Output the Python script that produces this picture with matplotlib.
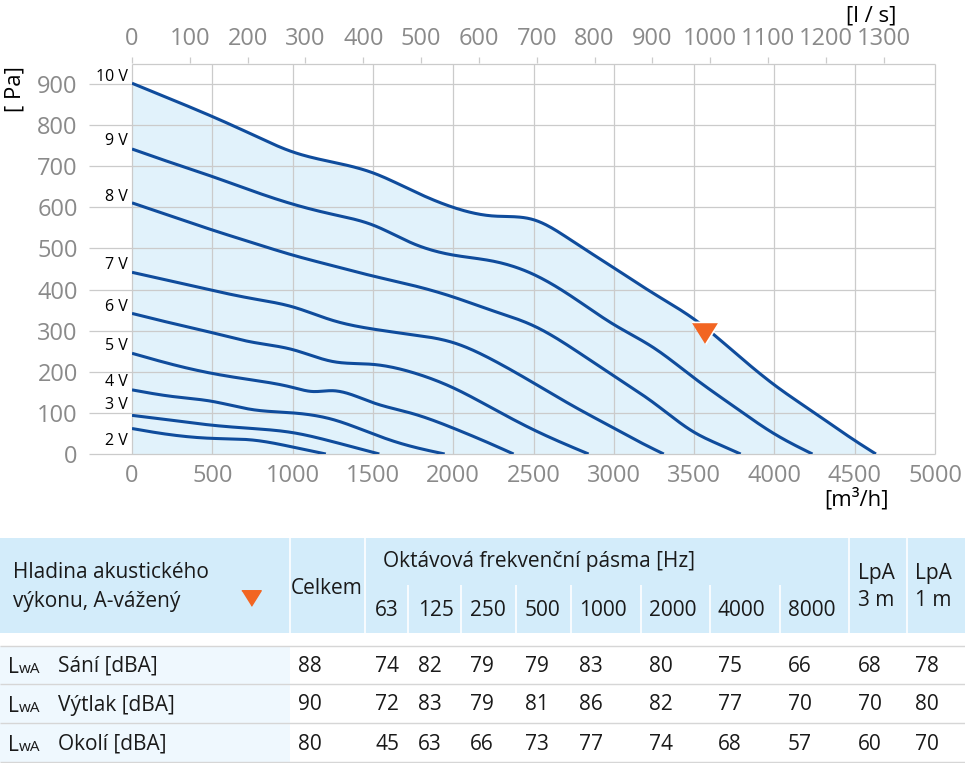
import numpy as np
import matplotlib
matplotlib.use('Agg')
import matplotlib.pyplot as plt
from matplotlib.patches import Rectangle

plt.rcParams['font.family'] = ['Open Sans', 'DejaVu Sans']

# fan curves, flow [m3/h] vs pressure [Pa]
q_10v = [0, 250, 500, 750, 1000, 1250, 1500, 1750, 2000, 2250, 2500, 2750, 3000, 3250, 3500, 3750, 4000, 4250, 4500, 4632]
p_10v = [902, 862, 821, 777, 735, 710, 684, 640, 600, 579, 570, 516, 453, 390, 328, 248, 168, 100, 33, 0]
q_9v = [0, 250, 500, 750, 1000, 1250, 1500, 1750, 2000, 2250, 2500, 2750, 3000, 3250, 3500, 3750, 4000, 4237]
p_9v = [742, 708, 675, 640, 608, 583, 557, 512, 484, 469, 437, 380, 315, 258, 185, 115, 49, 0]
q_8v = [0, 250, 500, 750, 1000, 1250, 1500, 1750, 2000, 2250, 2500, 2750, 3000, 3250, 3500, 3645, 3790]
p_8v = [611, 578, 545, 514, 484, 458, 433, 410, 382, 348, 312, 255, 190, 124, 53, 25, 0]
q_7v = [0, 250, 500, 750, 1000, 1250, 1500, 1750, 2000, 2250, 2500, 2750, 3000, 3167, 3311]
p_7v = [442, 420, 398, 378, 358, 325, 304, 290, 271, 228, 173, 116, 63, 28, 0]
q_6v = [0, 250, 500, 750, 1000, 1250, 1500, 1750, 2000, 2250, 2500, 2843]
p_6v = [342, 318, 295, 272, 254, 225, 218, 198, 161, 110, 59, 0]
q_5v = [0, 250, 500, 750, 1000, 1125, 1250, 1500, 1750, 2000, 2250, 2376]
p_5v = [245, 218, 196, 180, 162, 152, 154, 125, 98, 63, 22, 0]
q_4v = [0, 250, 500, 750, 1000, 1250, 1500, 1671, 1947]
p_4v = [156, 140, 128, 108, 100, 84, 49, 26, 0]
q_3v = [0, 250, 500, 750, 1000, 1250, 1540]
p_3v = [94, 82, 70, 62, 52, 30, 0]
q_2v = [0, 150, 500, 750, 1000, 1207]
p_2v = [62, 52, 38, 34, 17, 0]
voltages = ['10 V', '9 V', '8 V', '7 V', '6 V', '5 V', '4 V', '3 V', '2 V']
label_y = [917, 762, 626, 460, 358, 263, 175, 119, 32]
point_q, point_p = 3570, 294

# acoustic table
bands = ['63', '125', '250', '500', '1000', '2000', '4000', '8000']
row_names = ['Sání [dBA]', 'Výtlak [dBA]', 'Okolí [dBA]']
celkem = [88, 90, 80]
band_vals = [[74, 82, 79, 79, 83, 80, 75, 66],
             [72, 83, 79, 81, 86, 82, 77, 70],
             [45, 63, 66, 73, 77, 74, 68, 57]]
lpa_3m = [68, 70, 60]
lpa_1m = [78, 80, 70]

curves = [(q_10v, p_10v), (q_9v, p_9v), (q_8v, p_8v), (q_7v, p_7v), (q_6v, p_6v),
          (q_5v, p_5v), (q_4v, p_4v), (q_3v, p_3v), (q_2v, p_2v)]


def smooth(x, y, n=400):
    # natural cubic spline, only to draw a smooth line through the read points
    x = np.asarray(x, float)
    y = np.asarray(y, float)
    k = len(x)
    h = np.diff(x)
    A = np.zeros((k, k))
    b = np.zeros(k)
    A[0, 0] = A[-1, -1] = 1
    for i in range(1, k - 1):
        A[i, i - 1] = h[i - 1]
        A[i, i] = 2 * (h[i - 1] + h[i])
        A[i, i + 1] = h[i]
        b[i] = 6 * ((y[i + 1] - y[i]) / h[i] - (y[i] - y[i - 1]) / h[i - 1])
    M = np.linalg.solve(A, b)
    xs = np.linspace(x[0], x[-1], n)
    j = np.clip(np.searchsorted(x, xs) - 1, 0, k - 2)
    a = x[j + 1] - xs
    c = xs - x[j]
    hj = h[j]
    ys = (M[j] * a**3 + M[j + 1] * c**3) / (6 * hj) \
        + (y[j] / hj - M[j] * hj / 6) * a + (y[j + 1] / hj - M[j + 1] * hj / 6) * c
    return xs, ys


W, H = 965, 763
fig = plt.figure(figsize=(W / 100, H / 100), dpi=100)

# table, drawn in pixel coordinates
axt = fig.add_axes([0, 0, 1, 1])
axt.set_xlim(0, W)
axt.set_ylim(H, 0)
axt.axis('off')

head_bg = '#d3ecfa'
txt_c = '#1a1a1a'
axt.add_patch(Rectangle((0, 538), W, 95, color=head_bg, lw=0))
axt.add_patch(Rectangle((0, 646), 290, 116, color='#eff8fe', lw=0))
for xv in [290, 365, 849, 907]:
    axt.vlines(xv, 538, 633, color='white', lw=1.2)
for xv in [408, 461, 516, 571, 641, 710, 780]:
    axt.vlines(xv, 585, 633, color='white', lw=1.2)
for yv in [646, 684, 723, 762]:
    axt.hlines(yv, 0, W, color='#d6d6d6', lw=1.0)

fs = 15
axt.text(13, 572, 'Hladina akustického', fontsize=fs, color=txt_c, va='center')
axt.text(13, 601, 'výkonu, A-vážený', fontsize=fs, color=txt_c, va='center')
axt.plot([251], [598], marker=[(-1, 0.8), (1, 0.8), (0, -0.8)], ms=14,
         color='#f26522', mec='#f26522', ls='none')
axt.text(327, 588, 'Celkem', fontsize=fs, color=txt_c, va='center', ha='center')
axt.text(383, 561, 'Oktávová frekvenční pásma [Hz]', fontsize=fs, color=txt_c, va='center')
band_x = [375, 418, 470, 525, 579, 649, 718, 788]
for bx, b in zip(band_x, bands):
    axt.text(bx, 610, b, fontsize=fs, color=txt_c, va='center')
axt.text(858, 573, 'LpA', fontsize=fs, color=txt_c, va='center')
axt.text(858, 601, '3 m', fontsize=fs, color=txt_c, va='center')
axt.text(915, 573, 'LpA', fontsize=fs, color=txt_c, va='center')
axt.text(915, 601, '1 m', fontsize=fs, color=txt_c, va='center')

row_y = [666, 705, 744]
for r in range(3):
    yy = row_y[r]
    axt.text(8, yy + 7, 'L', fontsize=fs, color=txt_c, va='baseline')
    axt.text(19, yy + 7, 'wA', fontsize=11, color=txt_c, va='baseline')
    axt.text(58, yy, row_names[r], fontsize=fs, color=txt_c, va='center')
    axt.text(298, yy, str(celkem[r]), fontsize=fs, color=txt_c, va='center')
    for bx, v in zip(band_x, band_vals[r]):
        axt.text(bx, yy, str(v), fontsize=fs, color=txt_c, va='center')
    axt.text(858, yy, str(lpa_3m[r]), fontsize=fs, color=txt_c, va='center')
    axt.text(915, yy, str(lpa_1m[r]), fontsize=fs, color=txt_c, va='center')

# chart
ax = fig.add_axes([132 / W, 309 / H, (935 - 132) / W, (454 - 63.5) / H])
ax.set_xlim(0, 5000)
ax.set_ylim(0, 950)
ax.patch.set_alpha(0)
for s in ax.spines.values():
    s.set_visible(False)

grid_c = '#cbcbcb'
xs10, ys10 = smooth(q_10v, p_10v)
ax.fill_between(xs10, 0, ys10, color='#e1f2fb', lw=0, zorder=1)
ax.hlines(range(0, 901, 100), -270, 5000, color=grid_c, lw=0.9, clip_on=False, zorder=2)
ax.hlines(950, 0, 5000, color=grid_c, lw=0.9, clip_on=False, zorder=2)
ax.vlines(range(0, 5001, 500), 0, 950, color=grid_c, lw=0.9, clip_on=False, zorder=2)

for (q, p), v, ly in zip(curves, voltages, label_y):
    xs, ys = smooth(q, p)
    ax.plot(xs, ys, color='#0f4c9c', lw=2.2, solid_capstyle='butt', zorder=3)
    ax.text(-25, ly, v, fontsize=11.5, ha='right', va='center', color='black', clip_on=False)

ax.plot([point_q], [point_p], marker=[(-1, 0.8), (1, 0.8), (0, -0.8)], ms=20,
        color='#f26522', mec='white', mew=1.2, ls='none', zorder=4)

tick_c = '#8a8a8a'
ax.set_xticks(range(0, 5001, 500))
ax.set_yticks(range(0, 901, 100))
ax.tick_params(axis='x', length=0, pad=7, labelsize=17, labelcolor=tick_c)
ax.tick_params(axis='y', length=0, pad=39, labelsize=17, labelcolor=tick_c)

top = ax.secondary_xaxis('top', functions=(lambda q: q / 3.6, lambda l: l * 3.6))
top.set_xticks(range(0, 1301, 100))
top.tick_params(length=4, width=0.9, color=grid_c, pad=5, labelsize=17, labelcolor=tick_c)
top.spines['top'].set_visible(False)

fig.text(871 / W, 1 - 16 / H, '[l / s]', fontsize=16, ha='center', va='center')
fig.text(857 / W, 1 - 499 / H, '[m³/h]', fontsize=16, ha='center', va='center')
fig.text(15 / W, 1 - 89 / H, '[ Pa]', fontsize=16, ha='center', va='center', rotation=90)

fig.savefig('out.png', dpi=100)
